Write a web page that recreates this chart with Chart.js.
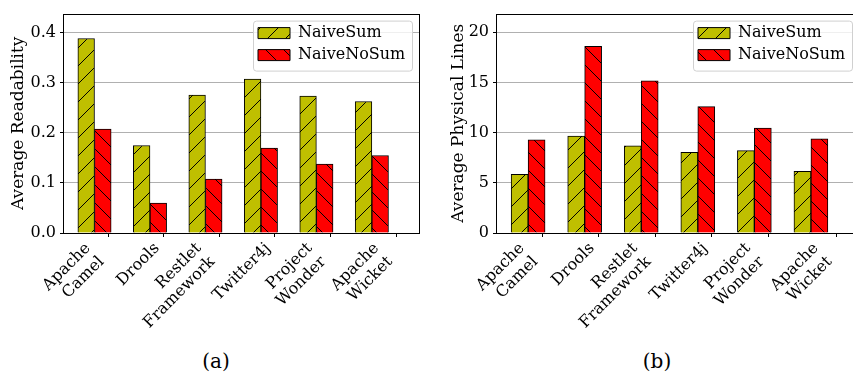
<!DOCTYPE html>
<html lang="en">
<head>
<meta charset="UTF-8" />
<title>Readability and physical lines</title>
<style>
  body { margin: 0; width: 853px; height: 374px; overflow: hidden; background: #fff; position: relative; font-family: 'DejaVu Serif', serif; }
  .panel { position: absolute; top: 0; }
  .caption { position: absolute; top: 351px; width: 100px; text-align: center; font-size: 20px; line-height: 20px; color: #000; }
</style>
</head>
<body>
<script src="https://cdn.jsdelivr.net/npm/chart.js"></script>

<div class="panel" style="left: 0px"><canvas id="chartA" width="430" height="345"></canvas></div>
<div class="panel" style="left: 430px"><canvas id="chartB" width="440" height="345"></canvas></div>
<div class="caption" style="left: 166px">(a)</div>
<div class="caption" style="left: 607px">(b)</div>

<script>
"use strict";
const categories = [["Apache", "Camel"], ["Drools"], ["Restlet", "Framework"], ["Twitter4j"], ["Project", "Wonder"], ["Apache", "Wicket"]];
const seriesNames = ["NaiveSum", "NaiveNoSum"];

const readabilitySum = [0.389, 0.175, 0.276, 0.308, 0.274, 0.263];
const readabilityNoSum = [0.208, 0.060, 0.108, 0.170, 0.138, 0.155];
const linesSum = [5.85, 9.66, 8.68, 8.03, 8.2, 6.15];
const linesNoSum = [9.27, 18.6, 15.15, 12.58, 10.44, 9.37];

const readabilityTicks = [0, 0.1, 0.2, 0.3, 0.4];
const readabilityTickLabels = ["0.0", "0.1", "0.2", "0.3", "0.4"];
const linesTicks = [0, 5, 10, 15, 20];
const linesTickLabels = ["0", "5", "10", "15", "20"];
const categoryTicks = [0.4, 1.4, 2.4, 3.4, 4.4, 5.6];

Chart.defaults.font.family = "'DejaVu Serif', serif";
Chart.defaults.font.size = 16;
Chart.defaults.color = "#000";

// matplotlib-like hatch fill
function hatch(color, dir) {
    const s = 18;
    const c = document.createElement("canvas");
    c.width = s; c.height = s;
    const g = c.getContext("2d");
    g.fillStyle = color;
    g.fillRect(0, 0, s, s);
    g.strokeStyle = "#000";
    g.lineWidth = 1;
    g.beginPath();
    if (dir === "/") { g.moveTo(-1, s + 1); g.lineTo(s + 1, -1); }
    else { g.moveTo(-1, -1); g.lineTo(s + 1, s + 1); }
    g.stroke();
    return g.createPattern(c, "repeat");
}

function drawFrame(chart) {
    const b = chart.$legendBox;
    if (!b) return;
    const ctx = chart.ctx;
    ctx.save();
    ctx.beginPath();
    ctx.roundRect(b.x + 0.5, b.y + 0.5, b.w, b.h, 3);
    ctx.fillStyle = "rgba(255,255,255,0.8)";
    ctx.fill();
    ctx.strokeStyle = "#d0d0d0";
    ctx.lineWidth = 1;
    ctx.stroke();
    ctx.restore();
}

const axesFrame = {
    id: "axesFrame",
    afterLayout(chart) {
        const area = chart.chartArea;
        const lg = chart.legend;
        const ctx = chart.ctx;
        ctx.save();
        ctx.font = "16px 'DejaVu Serif'";
        const textW = Math.max(...seriesNames.map(n => ctx.measureText(n).width));
        ctx.restore();
        const w = Math.round(5 + 32 + 8 + textW + 7);
        const h = 50;
        const bx = area.right - 7 - w;
        const by = area.top + 7;
        chart.$legendBox = { x: bx, y: by, w: w, h: h };
        lg.left = bx + 5 - 6;
        lg.right = lg.left + lg.width;
        lg.top = by - 1.5;
        lg.bottom = lg.top + lg.height;
        if (!lg.$framed) {
            const orig = lg.draw;
            lg.draw = function () { drawFrame(chart); return orig.apply(this, arguments); };
            lg.$framed = true;
        }
    },
    beforeDraw(chart) {
        // anchor rotated labels by their whole block (top-right corner at the tick)
        const items = chart.scales.x.getLabelItems(chart.chartArea);
        if (items.$shifted) return;
        items.forEach(it => {
            const n = Array.isArray(it.label) ? it.label.length : 1;
            it.options.translation[0] -= Math.SQRT1_2 * it.font.lineHeight * (n - 0.5);
        });
        items.$shifted = true;
    },
    afterDraw(chart) {
        const a = chart.chartArea;
        const ctx = chart.ctx;
        ctx.save();
        ctx.strokeStyle = "#000";
        ctx.lineWidth = 1;
        ctx.strokeRect(Math.round(a.left) - 0.5, Math.round(a.top) + 0.5, Math.round(a.right - a.left) + 1, Math.round(a.bottom - a.top));
        ctx.restore();
    }
};

function barData(values, shift) {
    return values.map((v, i) => ({ x: i + shift, y: v }));
}

function makeChart(id, o) {
    const canvas = document.getElementById(id);
    const H = canvas.height;
    return new Chart(canvas.getContext("2d"), {
        type: "bar",
        data: {
            datasets: [
                {
                    label: seriesNames[0],
                    data: barData(o.sum, 0),
                    backgroundColor: hatch("#bfbf00", "/"),
                    borderColor: "#000",
                    borderWidth: 1,
                    grouped: false,
                    barPercentage: 1,
                    categoryPercentage: 1
                },
                {
                    label: seriesNames[1],
                    data: barData(o.noSum, 0.3),
                    backgroundColor: hatch("#ff0000", "\\"),
                    borderColor: "#000",
                    borderWidth: 1,
                    grouped: false,
                    barPercentage: 1,
                    categoryPercentage: 1
                }
            ]
        },
        options: {
            responsive: false,
            animation: false,
            layout: { padding: { top: o.top, right: o.right, left: 0, bottom: 0 } },
            plugins: {
                tooltip: { enabled: false },
                legend: {
                    position: "chartArea",
                    align: "start",
                    labels: { boxWidth: 32, boxHeight: 11, padding: 6, color: "#000", font: { size: 16 } }
                }
            },
            scales: {
                x: {
                    type: "linear",
                    offset: false,
                    min: -0.4,
                    max: 6.0,
                    afterBuildTicks: s => { s.ticks = categoryTicks.map(v => ({ value: v })); },
                    ticks: {
                        autoSkip: false,
                        minRotation: 45,
                        maxRotation: 45,
                        padding: 2,
                        color: "#000",
                        callback: (v, i) => categories[i]
                    },
                    grid: { offset: false, drawOnChartArea: false, tickColor: "#000", tickLength: 4 },
                    border: { display: false },
                    afterFit: s => { s.height = H - 233; }
                },
                y: {
                    min: 0,
                    max: o.yMax,
                    afterBuildTicks: s => { s.ticks = o.ticks.map(v => ({ value: v })); },
                    ticks: { padding: 4, color: "#000", callback: (v, i) => o.tickLabels[i] },
                    grid: { color: "#b0b0b0", tickColor: "#000", tickLength: 4 },
                    border: { display: false },
                    title: { display: true, text: o.title, color: "#000", font: { size: 17 }, padding: { top: o.titlePad, bottom: 0 } },
                    afterFit: s => { s.width = o.left; }
                }
            }
        },
        plugins: [axesFrame]
    });
}

makeChart("chartA", {
    sum: readabilitySum, noSum: readabilityNoSum,
    ticks: readabilityTicks, tickLabels: readabilityTickLabels, yMax: 0.4387,
    title: "Average Readability", left: 64, top: 10, right: 11, titlePad: 8
});
makeChart("chartB", {
    sum: linesSum, noSum: linesNoSum,
    ticks: linesTicks, tickLabels: linesTickLabels, yMax: 21.85,
    title: "Average Physical Lines", left: 67, top: 9, right: 11, titlePad: 18
});
</script>
</body>
</html>
